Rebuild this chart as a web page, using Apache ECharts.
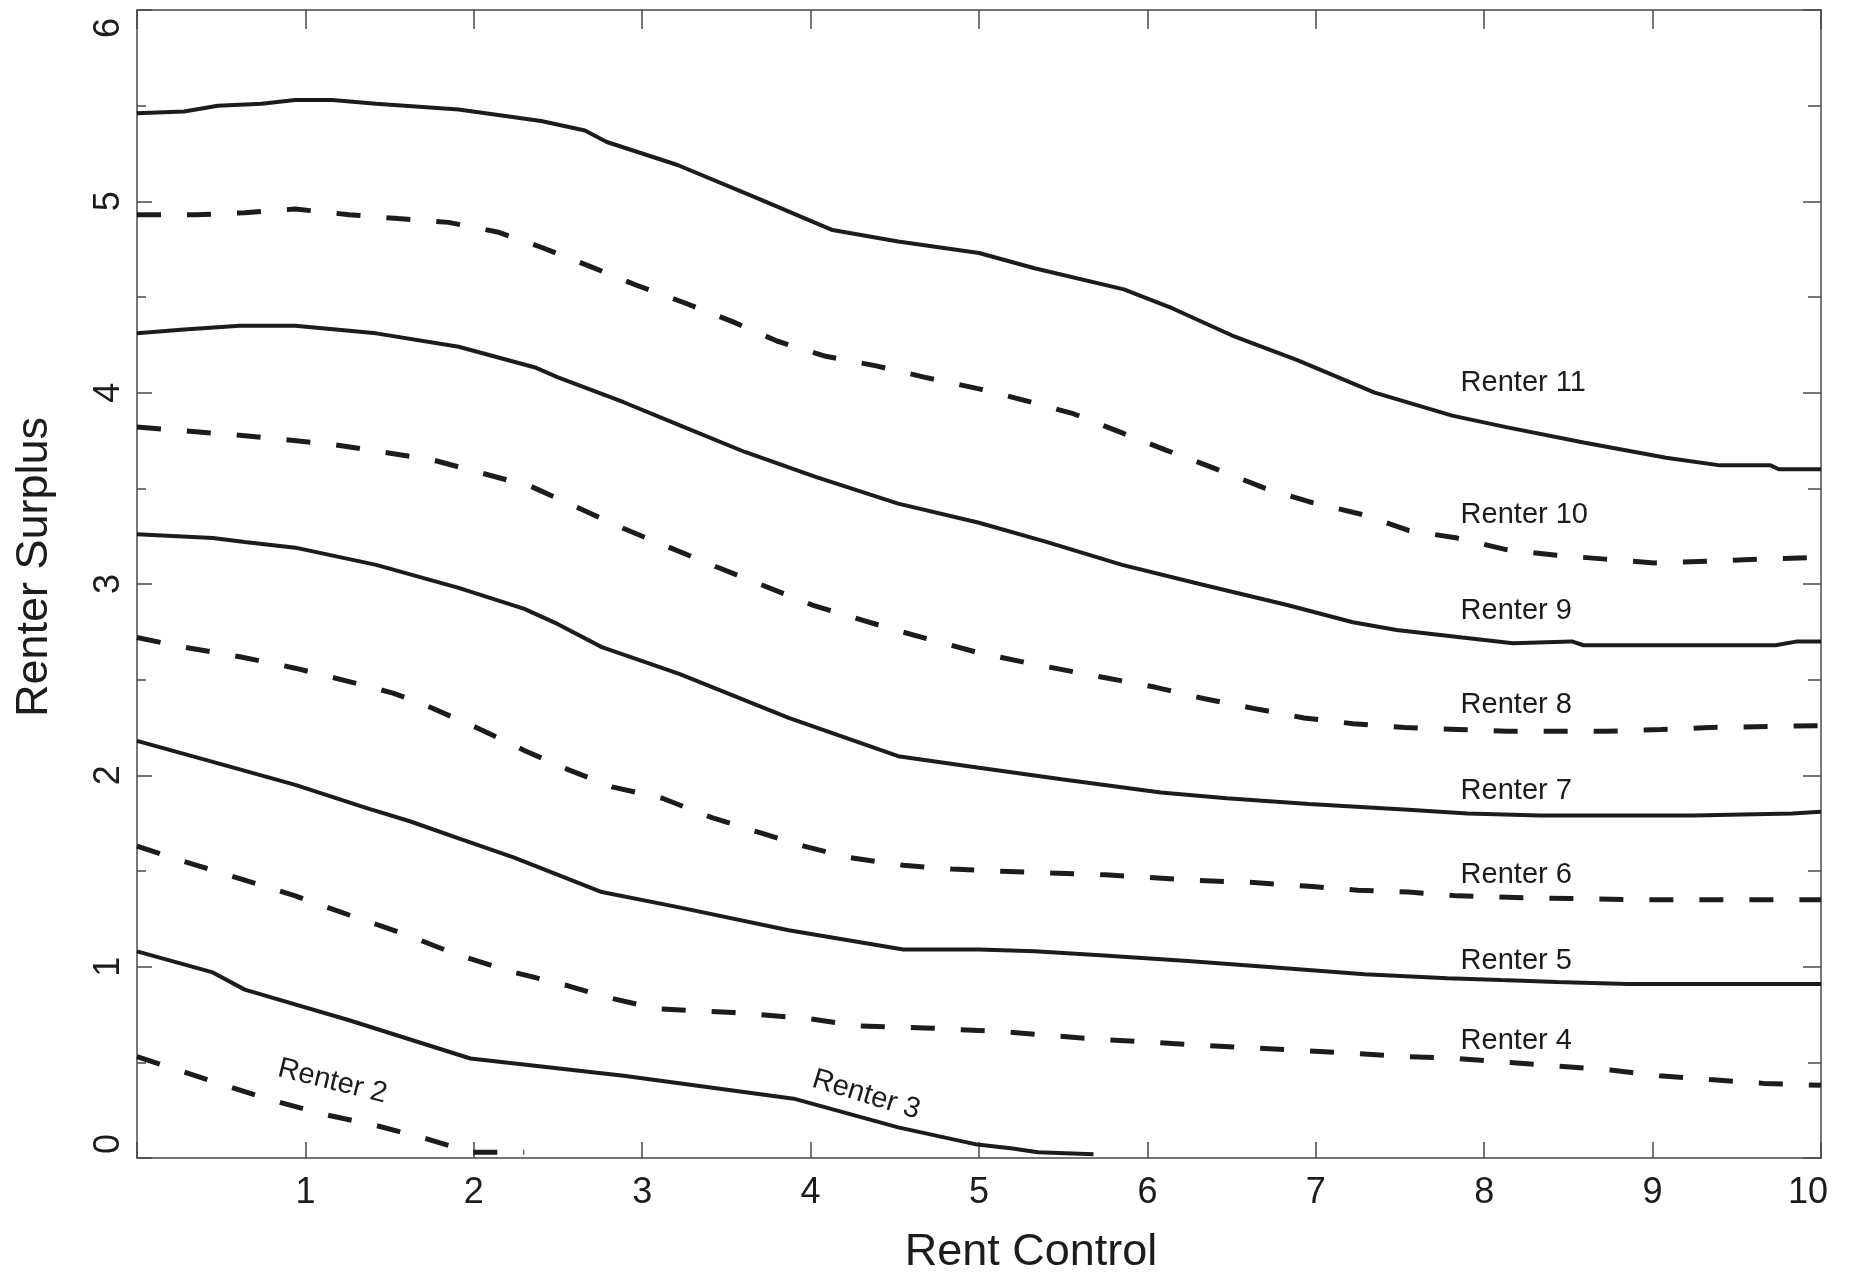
<!DOCTYPE html>
<html>
<head>
<meta charset="utf-8">
<script src="https://cdn.jsdelivr.net/npm/echarts@6/dist/echarts.min.js"></script>
<style>
html,body{margin:0;padding:0;background:#fff;}
#chart{width:1853px;height:1284px;}
</style>
</head>
<body>
<div id="chart"></div>
<script>
// ---- data (x = rent control, y = renter surplus) ----
const renter11 = [[0,5.46],[0.28,5.47],[0.48,5.50],[0.74,5.51],[0.94,5.53],[1.16,5.53],[1.42,5.51],[1.91,5.48],[2.40,5.42],[2.66,5.37],[2.79,5.31],[3.21,5.19],[3.70,5.01],[4.13,4.85],[4.52,4.79],[5.0,4.73],[5.33,4.65],[5.86,4.54],[6.15,4.44],[6.50,4.30],[6.89,4.17],[7.35,4.00],[7.81,3.88],[8.13,3.82],[8.59,3.74],[9.08,3.66],[9.40,3.62],[9.70,3.62],[9.75,3.60],[10,3.60]];
const renter10 = [[0,4.93],[0.35,4.93],[0.64,4.94],[0.94,4.96],[1.26,4.93],[1.55,4.91],[1.85,4.89],[2.14,4.84],[2.40,4.76],[2.69,4.66],[2.97,4.56],[3.25,4.47],[3.54,4.37],[3.80,4.27],[4.09,4.19],[4.39,4.14],[4.68,4.08],[5.0,4.02],[5.27,3.96],[5.56,3.89],[5.82,3.80],[6.11,3.70],[6.41,3.60],[6.70,3.50],[6.96,3.43],[7.29,3.36],[7.55,3.28],[7.84,3.24],[8.13,3.18],[8.43,3.15],[8.72,3.13],[9.01,3.11],[9.34,3.12],[9.63,3.13],[10,3.14]];
const renter9 = [[0,4.31],[0.28,4.33],[0.61,4.35],[0.94,4.35],[1.42,4.31],[1.91,4.24],[2.37,4.13],[2.50,4.08],[2.89,3.95],[3.22,3.83],[3.61,3.69],[4.03,3.56],[4.52,3.42],[5.0,3.32],[5.40,3.22],[5.85,3.10],[6.31,3.00],[6.83,2.89],[7.22,2.80],[7.48,2.76],[7.87,2.72],[8.17,2.69],[8.52,2.70],[8.59,2.68],[9.08,2.68],[9.73,2.68],[9.86,2.70],[10,2.70]];
const renter8 = [[0,3.82],[0.58,3.78],[1.16,3.73],[1.75,3.65],[2.34,3.51],[2.89,3.29],[3.44,3.09],[4.01,2.89],[4.5,2.76],[5.0,2.64],[5.33,2.58],[5.75,2.51],[6.05,2.46],[6.34,2.40],[6.63,2.35],[6.93,2.30],[7.22,2.27],[7.53,2.25],[7.84,2.24],[8.13,2.23],[8.72,2.23],[9.05,2.24],[9.34,2.25],[10,2.26]];
const renter7 = [[0,3.26],[0.45,3.24],[0.64,3.22],[0.94,3.19],[1.42,3.10],[1.91,2.98],[2.30,2.87],[2.50,2.79],[2.76,2.67],[3.22,2.53],[3.87,2.30],[4.52,2.10],[5.0,2.04],[5.49,1.98],[6.08,1.91],[6.47,1.88],[6.96,1.85],[7.55,1.82],[7.90,1.80],[8.33,1.79],[9.24,1.79],[9.83,1.80],[10,1.81]];
const renter6 = [[0,2.72],[0.28,2.67],[0.61,2.62],[0.94,2.56],[1.26,2.49],[1.52,2.43],[1.68,2.38],[2.04,2.24],[2.30,2.13],[2.56,2.03],[2.82,1.94],[3.12,1.88],[3.41,1.78],[3.70,1.70],[3.96,1.63],[4.23,1.57],[4.55,1.53],[4.84,1.51],[5.10,1.50],[5.75,1.48],[6.31,1.45],[6.63,1.44],[6.96,1.42],[7.25,1.40],[7.55,1.39],[7.84,1.37],[8.26,1.36],[8.91,1.35],[9.34,1.35],[10,1.35]];
const renter5 = [[0,2.18],[0.45,2.07],[0.94,1.95],[1.36,1.83],[1.62,1.76],[1.91,1.67],[2.24,1.57],[2.76,1.39],[3.22,1.31],[3.87,1.19],[4.55,1.09],[5.0,1.09],[5.33,1.08],[5.72,1.06],[6.24,1.03],[6.70,1.00],[7.29,0.96],[7.78,0.94],[8.10,0.93],[8.43,0.92],[8.85,0.91],[10,0.91]];
const renter4 = [[0,1.63],[0.28,1.55],[0.61,1.46],[0.94,1.37],[1.26,1.27],[1.59,1.17],[1.91,1.06],[2.24,0.97],[2.56,0.90],[2.79,0.84],[3.09,0.78],[3.54,0.76],[3.98,0.73],[4.29,0.69],[4.68,0.68],[5.14,0.66],[5.72,0.62],[6.31,0.59],[6.96,0.56],[7.55,0.53],[7.84,0.52],[8.13,0.50],[8.75,0.46],[9.04,0.43],[9.34,0.41],[9.66,0.39],[10,0.38]];
const renter3 = [[0,1.08],[0.45,0.97],[0.64,0.88],[1.26,0.72],[1.98,0.52],[2.89,0.43],[3.90,0.31],[4.52,0.16],[4.99,0.07],[5.2,0.05],[5.35,0.03],[5.68,0.02]];
const renter2 = [[0,0.53],[0.45,0.40],[0.77,0.31],[1.10,0.23],[1.42,0.17],[1.72,0.10],[1.91,0.05],[1.98,0.03],[2.30,0.03]];

const seriesNames = ['Renter 11','Renter 10','Renter 9','Renter 8','Renter 7','Renter 6','Renter 5','Renter 4','Renter 3','Renter 2'];
const seriesData = [renter11, renter10, renter9, renter8, renter7, renter6, renter5, renter4, renter3, renter2];
const seriesDashed = [false, true, false, true, false, true, false, true, false, true];

// label anchors (data coordinates) and text
const labelTexts = ['Renter 11','Renter 10','Renter 9','Renter 8','Renter 7','Renter 6','Renter 5','Renter 4'];
const labelX = [7.86, 7.86, 7.86, 7.86, 7.86, 7.86, 7.86, 7.86];
const labelY = [4.05, 3.36, 2.86, 2.37, 1.92, 1.48, 1.03, 0.61];
const slantTexts = ['Renter 2','Renter 3'];
const slantX = [1.16, 4.33];
const slantY = [0.40, 0.33];
const slantAngle = [-14, -17];

const xTicks = [0,1,2,3,4,5,6,7,8,9,10];
const yTicks = [0,1,2,3,4,5,6];

// ---- chart ----
const FONT = '"Liberation Sans", Arial, Helvetica, sans-serif';
const INK = '#1e1b1c';
const AXIS = '#4a4a4a';

const chart = echarts.init(document.getElementById('chart'), null, {renderer: 'canvas'});

const lineSeries = seriesData.map((d, i) => ({
  name: seriesNames[i],
  type: 'line',
  data: d,
  showSymbol: false,
  symbol: 'none',
  smooth: false,
  lineStyle: seriesDashed[i]
    ? {color: INK, width: 5, type: [24, 26], cap: 'butt'}
    : {color: INK, width: 4, type: 'solid', cap: 'butt'},
  z: 3,
  silent: true
}));

const labelSeries = {
  type: 'scatter',
  symbolSize: 0,
  silent: true,
  data: labelTexts.map((t, i) => [labelX[i], labelY[i], t]),
  label: {
    show: true,
    position: 'right',
    distance: 0,
    formatter: p => p.data[2],
    fontFamily: FONT,
    fontSize: 29,
    color: INK,
    opacity: 1,
    verticalAlign: 'middle'
  },
  z: 5
};

const slantSeries = slantTexts.map((t, i) => ({
  type: 'scatter',
  symbolSize: 0,
  silent: true,
  data: [[slantX[i], slantY[i], t]],
  label: {
    show: true,
    position: 'inside',
    formatter: p => p.data[2],
    fontFamily: FONT,
    fontSize: 29,
    color: INK,
    opacity: 1,
    rotate: slantAngle[i],
    align: 'center',
    verticalAlign: 'middle'
  },
  z: 5
}));

const yMin = yTicks[0], yMax = yTicks[yTicks.length - 1];
const xMin = xTicks[0], xMax = xTicks[xTicks.length - 1];

chart.setOption({
  animation: false,
  backgroundColor: '#fff',
  grid: {left: 137, right: 32, top: 10, bottom: 126, containLabel: false},
  xAxis: [
    {
      type: 'value', min: xMin, max: xMax, interval: 1, position: 'bottom',
      name: 'Rent Control', nameLocation: 'middle', nameGap: 72,
      nameTextStyle: {fontFamily: FONT, fontSize: 45, color: INK, padding: [0, 0, 0, 104]},
      axisLine: {show: true, onZero: false, lineStyle: {color: AXIS, width: 1.5}},
      axisTick: {show: true, inside: true, length: 16, lineStyle: {color: AXIS, width: 1.5}},
      axisLabel: {
        show: true, margin: 17, fontFamily: FONT, fontSize: 36, color: INK,
        formatter: v => (v === xMin ? '' : v === xMax ? '{hi|' + v + '}' : String(v)),
        rich: {
          hi: {fontFamily: FONT, fontSize: 36, color: INK, padding: [0, 26, 0, 0]}
        }
      },
      splitLine: {show: false}
    },
    {
      type: 'value', min: xMin, max: xMax, interval: 1, position: 'top',
      axisLine: {show: true, onZero: false, lineStyle: {color: AXIS, width: 1.5}},
      axisTick: {show: true, inside: true, length: 19, lineStyle: {color: AXIS, width: 1.5}},
      axisLabel: {show: false},
      splitLine: {show: false}
    }
  ],
  yAxis: [
    {
      type: 'value', min: yMin, max: yMax, interval: 1, position: 'left',
      name: 'Renter Surplus', nameLocation: 'middle', nameGap: 80, nameRotate: 90,
      nameTextStyle: {fontFamily: FONT, fontSize: 45, color: INK, padding: [0, 0, 0, 34]},
      axisLine: {show: true, onZero: false, lineStyle: {color: AXIS, width: 1.5}},
      axisTick: {show: true, inside: true, length: 15, lineStyle: {color: AXIS, width: 1.5}},
      minorTick: {show: true, splitNumber: 2, length: 9, lineStyle: {color: AXIS, width: 1.5}},
      axisLabel: {
        show: true, rotate: 90, margin: 10, fontFamily: FONT, fontSize: 36, color: INK,
        formatter: v => (v === yMin ? '{lo|' + v + '}' : v === yMax ? '{hi|' + v + '}' : String(v)),
        rich: {
          lo: {fontFamily: FONT, fontSize: 36, color: INK, padding: [0, 0, 0, 28]},
          hi: {fontFamily: FONT, fontSize: 36, color: INK, padding: [0, 36, 0, 0]}
        }
      },
      splitLine: {show: false}
    },
    {
      type: 'value', min: yMin, max: yMax, interval: 1, position: 'right',
      axisLine: {show: true, onZero: false, lineStyle: {color: AXIS, width: 1.5}},
      axisTick: {show: true, inside: true, length: 18, lineStyle: {color: AXIS, width: 1.5}},
      minorTick: {show: true, splitNumber: 2, length: 13, lineStyle: {color: AXIS, width: 1.5}},
      axisLabel: {show: false},
      splitLine: {show: false},
      minorSplitLine: {show: false}
    }
  ],
  series: [...lineSeries, labelSeries, ...slantSeries]
});
</script>
</body>
</html>
